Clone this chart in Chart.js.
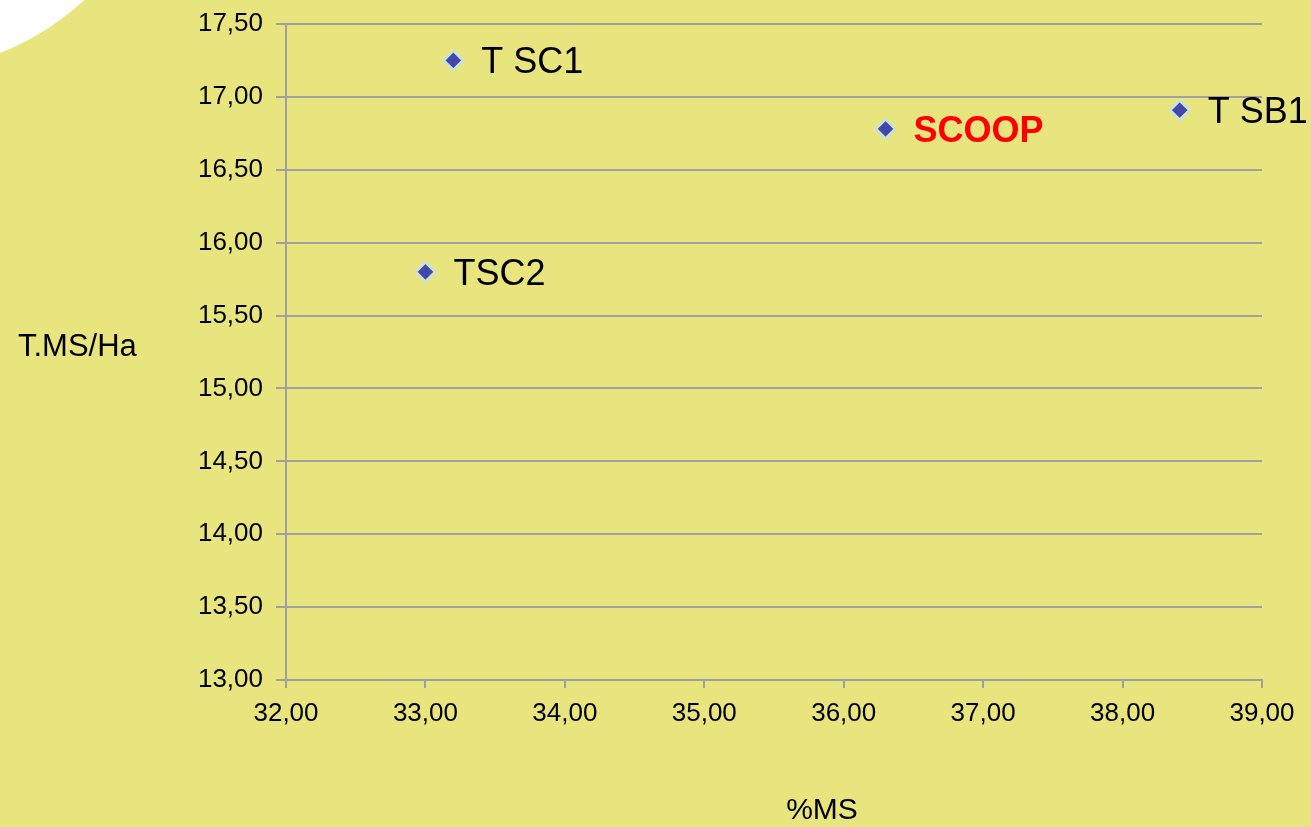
<!DOCTYPE html>
<html>
<head>
<meta charset="utf-8">
<script src="https://cdn.jsdelivr.net/npm/chart.js@4"></script>
<style>
  html, body { margin: 0; padding: 0; background: #E9E57E; overflow: hidden; }
  #wrap { position: relative; width: 1311px; height: 827px; }
  #blob { position: absolute; left: -372px; top: -472px; width: 544px; height: 544px; border-radius: 50%; background: #fff; }
  #c { position: absolute; left: 0; top: 0; }
</style>
</head>
<body>
<div id="wrap">
  <div id="blob"></div>
  <canvas id="c" width="1311" height="827"></canvas>
</div>
<script>
const names = ['T SC1', 'SCOOP', 'T SB1', 'TSC2'];
const msPercent = [33.2, 36.3, 38.41, 33.0];
const tmsPerHa = [17.25, 16.78, 16.91, 15.80];
const labelColors = ['#000000', '#FF0000', '#000000', '#000000'];
const labelBold = [false, true, false, false];

const fmt = v => v.toFixed(2).replace('.', ',');

const pointLabels = {
    id: 'pointLabels',
    afterDatasetsDraw(chart) {
        const ctx = chart.ctx;
        const meta = chart.getDatasetMeta(0);
        ctx.save();
        ctx.textBaseline = 'middle';
        ctx.textAlign = 'left';
        meta.data.forEach((pt, i) => {
            ctx.font = (labelBold[i] ? 'bold ' : '') + '36px "Liberation Sans", Arial, sans-serif';
            ctx.fillStyle = labelColors[i];
            ctx.fillText(names[i], pt.x + 28, pt.y + 3);
        });
        // axis titles, horizontal like the original
        ctx.fillStyle = '#000';
        ctx.font = '31px "Liberation Sans", Arial, sans-serif';
        ctx.fillText('T.MS/Ha', 18, 347);
        ctx.textAlign = 'center';
        ctx.font = '30px "Liberation Sans", Arial, sans-serif';
        ctx.fillText('%MS', 822, 811);
        ctx.restore();
    }
};

new Chart(document.getElementById('c'), {
    type: 'scatter',
    data: {
        datasets: [{
            label: 'T.MS/Ha',
            data: msPercent.map((x, i) => ({ x: x, y: tmsPerHa[i] })),
            pointStyle: 'rectRot',
            pointRadius: 9.5,
            pointHoverRadius: 9.5,
            backgroundColor: '#4347A9',
            borderColor: '#C4E2E0',
            borderWidth: 2.5,
            clip: false
        }]
    },
    options: {
        responsive: false,
        animation: false,
        events: [],
        layout: { padding: { left: 0, right: 49, top: 24, bottom: 0 } },
        plugins: { legend: { display: false }, tooltip: { enabled: false } },
        scales: {
            x: {
                type: 'linear',
                min: 32, max: 39,
                afterFit(s) { s.height = 147; s.paddingLeft = 0; s.paddingRight = 0; },
                ticks: { stepSize: 1, color: '#000', padding: 10, maxRotation: 0,
                         font: { size: 26, family: '"Liberation Sans", Arial, sans-serif' },
                         callback: v => fmt(v) },
                grid: { drawOnChartArea: false, drawTicks: true, tickLength: 8, color: '#A0A0A0', lineWidth: 2 },
                border: { display: true, color: '#A0A0A0', width: 2 }
            },
            y: {
                type: 'linear',
                min: 13, max: 17.5,
                afterFit(s) { s.width = 286; s.paddingTop = 0; s.paddingBottom = 0; },
                ticks: { stepSize: 0.5, color: '#000', padding: 13,
                         font: { size: 26, family: '"Liberation Sans", Arial, sans-serif' },
                         callback: v => fmt(v) },
                grid: { drawOnChartArea: true, drawTicks: true, tickLength: 10, color: '#A0A0A0', lineWidth: 2 },
                border: { display: true, color: '#A0A0A0', width: 2 }
            }
        }
    },
    plugins: [pointLabels]
});
</script>
</body>
</html>
